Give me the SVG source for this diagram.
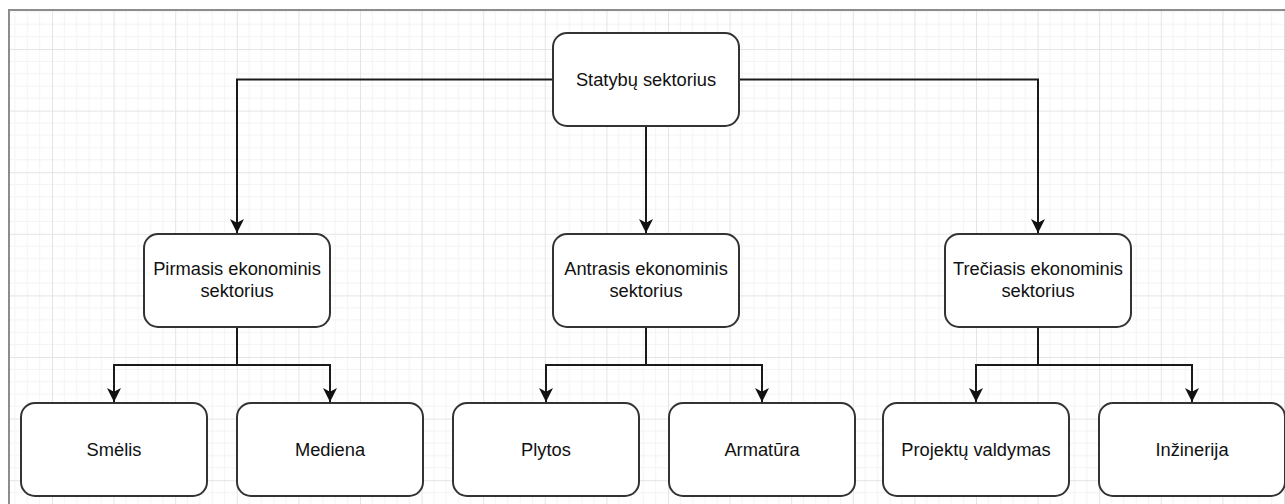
<svg xmlns="http://www.w3.org/2000/svg" width="1285" height="504" viewBox="0 0 1285 504">
  <defs>
    <pattern id="grid" x="52" y="49" width="61.6" height="61.6" patternUnits="userSpaceOnUse">
      <path d="M12.32,0V61.6M24.64,0V61.6M36.96,0V61.6M49.28,0V61.6M0,12.32H61.6M0,24.64H61.6M0,36.96H61.6M0,49.28H61.6" stroke="#f3f3f3" stroke-width="1" fill="none"/>
      <path d="M0.5,0V61.6M0,0.5H61.6" stroke="#e4e4e4" stroke-width="1" fill="none"/>
    </pattern>
    <marker id="arrow" markerUnits="userSpaceOnUse" markerWidth="14" markerHeight="14" viewBox="0 0 13 13" refX="13" refY="6.5" orient="auto">
      <path d="M0,0 L13,6.5 L0,13 L3.5,6.5 Z" fill="#111"/>
    </marker>
    <style>
      .box { fill: #ffffff; stroke: #333333; stroke-width: 2; }
      .lbl { font-family: "Liberation Sans", Arial, sans-serif; font-size: 18.3px; fill: #111111; text-anchor: middle; }
      .conn { fill: none; stroke: #1a1a1a; stroke-width: 2; marker-end: url(#arrow); }
    </style>
  </defs>
  <rect x="0" y="0" width="1285" height="504" fill="#ffffff"/>
  <rect x="10" y="11" width="1275" height="493" fill="url(#grid)"/>
  <path d="M9,504 V10 H1285" fill="none" stroke="#8c8c8c" stroke-width="2"/>
  <line x1="1284.5" y1="11" x2="1284.5" y2="504" stroke="#dddddd" stroke-width="1"/>

  <g id="connectors">
    <path class="conn" d="M553,79.5 H237 V233"/>
    <path class="conn" d="M646,126 V233"/>
    <path class="conn" d="M739,79.5 H1038 V233"/>
    <path class="conn" d="M237,327 V365 H114 V402"/>
    <path class="conn" d="M237,327 V365 H330 V402"/>
    <path class="conn" d="M646,327 V365 H546 V402"/>
    <path class="conn" d="M646,327 V365 H762 V402"/>
    <path class="conn" d="M1038,327 V365 H976 V402"/>
    <path class="conn" d="M1038,327 V365 H1192 V402"/>
  </g>

  <g id="node-statybu">
    <rect class="box" x="553" y="33" width="186" height="93" rx="14"/>
    <text class="lbl" x="646" y="86">Statybų sektorius</text>
  </g>
  <g id="node-pirmasis">
    <rect class="box" x="144" y="234" width="186" height="93" rx="14"/>
    <text class="lbl" x="237" y="275">Pirmasis ekonominis</text>
    <text class="lbl" x="237" y="297">sektorius</text>
  </g>
  <g id="node-antrasis">
    <rect class="box" x="553" y="234" width="186" height="93" rx="14"/>
    <text class="lbl" x="646" y="275">Antrasis ekonominis</text>
    <text class="lbl" x="646" y="297">sektorius</text>
  </g>
  <g id="node-treciasis">
    <rect class="box" x="945" y="234" width="186" height="93" rx="14"/>
    <text class="lbl" x="1038" y="275">Trečiasis ekonominis</text>
    <text class="lbl" x="1038" y="297">sektorius</text>
  </g>
  <g id="node-smelis">
    <rect class="box" x="21" y="403" width="186" height="93" rx="14"/>
    <text class="lbl" x="114" y="456">Smėlis</text>
  </g>
  <g id="node-mediena">
    <rect class="box" x="237" y="403" width="186" height="93" rx="14"/>
    <text class="lbl" x="330" y="456">Mediena</text>
  </g>
  <g id="node-plytos">
    <rect class="box" x="453" y="403" width="186" height="93" rx="14"/>
    <text class="lbl" x="546" y="456">Plytos</text>
  </g>
  <g id="node-armatura">
    <rect class="box" x="669" y="403" width="186" height="93" rx="14"/>
    <text class="lbl" x="762" y="456">Armatūra</text>
  </g>
  <g id="node-projektu">
    <rect class="box" x="883" y="403" width="186" height="93" rx="14"/>
    <text class="lbl" x="976" y="456">Projektų valdymas</text>
  </g>
  <g id="node-inzinerija">
    <rect class="box" x="1099" y="403" width="186" height="93" rx="14"/>
    <text class="lbl" x="1192" y="456">Inžinerija</text>
  </g>
</svg>
